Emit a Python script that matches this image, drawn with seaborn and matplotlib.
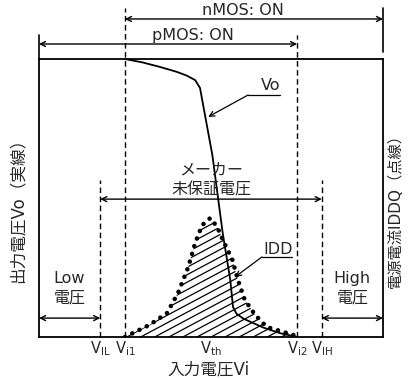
import numpy as np
import pandas as pd
import matplotlib
matplotlib.use("Agg")
import matplotlib.pyplot as plt
import seaborn as sns

# Voltages (Vdd = 5)
vdd = 5.0
v_il, v_i1, v_th, v_i2, v_ih = 0.89, 1.25, 2.5, 3.75, 4.11
tick_pos = [v_il, v_i1, v_th, v_i2, v_ih]
tick_labels = [r"V$_{\mathrm{IL}}$", r"V$_{\mathrm{i1}}$", r"V$_{\mathrm{th}}$",
               r"V$_{\mathrm{i2}}$", r"V$_{\mathrm{IH}}$"]

# Output voltage Vo (solid line)
vo_x = [1.25, 1.50, 1.75, 2.00, 2.15, 2.27, 2.34, 2.52, 2.67, 2.78, 2.82,
        2.87, 2.97, 3.26, 3.50, 3.75]
vo_y = [5.00, 4.94, 4.86, 4.77, 4.70, 4.62, 4.48, 3.27, 1.87, 1.03, 0.54,
        0.42, 0.33, 0.17, 0.07, 0.00]

# Supply current IDD (dotted line)
idd_x = [1.25, 1.61, 1.86, 2.02, 2.17, 2.27, 2.37, 2.49, 2.59, 2.67, 2.81,
         2.89, 2.99, 3.14, 3.31, 3.69, 3.75]
idd_y = [0.00, 0.22, 0.43, 0.79, 1.26, 1.69, 2.01, 2.14, 1.98, 1.75, 1.39,
         1.03, 0.67, 0.40, 0.18, 0.04, 0.00]

vo = pd.DataFrame({"Vi": vo_x, "Vo": vo_y})
idd = pd.DataFrame({"Vi": idd_x, "IDD": idd_y})

sns.set_style("white")
plt.rcParams["font.family"] = ["DejaVu Sans", "Noto Sans CJK JP"]

fig = plt.figure(figsize=(4.10, 3.79), dpi=100)
ax = fig.add_axes([39 / 410, 42 / 379, 344 / 410, 278 / 379])
ax.set_xlim(0, vdd)
ax.set_ylim(0, vdd)
for s in ax.spines.values():
    s.set_linewidth(1.3)
    s.set_color("black")
ax.set_yticks([])
ax.set_xticks(tick_pos, tick_labels)
ax.tick_params(axis="x", length=0, pad=2, labelsize=10.5)

k = dict(color="black", clip_on=False)
dash = (0, (4, 2.5))

# dashed verticals
ax.plot([v_i1, v_i1], [0, 5.92], ls=dash, lw=1, **k)
ax.plot([v_i2, v_i2], [0, 5.43], ls=dash, lw=1, **k)
ax.plot([v_il, v_il], [0, 2.82], ls=dash, lw=1, **k)
ax.plot([v_ih, v_ih], [0, 2.82], ls=dash, lw=1, **k)

# end ticks of the ON ranges
ax.plot([vdd, vdd], [5.13, 5.92], lw=1.2, **k)
ax.plot([0, 0], [5.0, 5.43], lw=1.2, **k)


def span(x1, x2, y):
    ax.annotate("", xy=(x2, y), xytext=(x1, y),
                arrowprops=dict(arrowstyle="<->", lw=1, color="black",
                                shrinkA=0, shrinkB=0, mutation_scale=9),
                annotation_clip=False)


span(v_i1, vdd, 5.72)
span(0, v_i2, 5.27)
span(v_il, v_ih, 2.48)
span(0, v_il, 0.34)
span(v_ih, vdd, 0.34)

fs = 11.5
ax.text(2.97, 5.87, "nMOS: ON", ha="center", va="center", fontsize=fs)
ax.text(2.24, 5.42, "pMOS: ON", ha="center", va="center", fontsize=fs)
ax.text(v_th, 3.0, "メーカー", ha="center", va="center", fontsize=fs)
ax.text(v_th, 2.64, "未保証電圧", ha="center", va="center", fontsize=fs)
ax.text(v_il / 2, 1.06, "Low", ha="center", va="center", fontsize=fs)
ax.text(v_il / 2, 0.70, "電圧", ha="center", va="center", fontsize=fs)
ax.text((v_ih + vdd) / 2, 1.06, "High", ha="center", va="center", fontsize=fs)
ax.text((v_ih + vdd) / 2, 0.70, "電圧", ha="center", va="center", fontsize=fs)

# hatch under IDD curve
poly = ax.fill_between(idd_x, idd_y, 0, facecolor="none", edgecolor="none")
clip = poly.get_paths()[0]
slope = 0.66
hx = np.array([0, vdd])
for c in np.arange(-3.0, 3.0, 0.135):
    ln, = ax.plot(hx, c + slope * hx, color="black", lw=0.9)
    ln.set_clip_path(clip, ax.transData)

# curves
sns.lineplot(data=vo, x="Vi", y="Vo", ax=ax, color="black", lw=1.3,
             estimator=None, sort=False)
sns.lineplot(data=idd, x="Vi", y="IDD", ax=ax, color="black", lw=3.3,
             estimator=None, sort=False)
dots = ax.lines[-1]
dots.set_linestyle((0, (0.01, 1.75)))
dots.set_dash_capstyle("round")
ax.set_xlabel("")
ax.set_ylabel("")

# leaders
ax.text(3.36, 4.52, "Vo", ha="center", va="center", fontsize=fs)
ax.plot([3.04, 3.50], [4.353, 4.353], lw=0.9, color="black")
ax.annotate("", xy=(2.46, 3.96), xytext=(3.04, 4.353),
            arrowprops=dict(arrowstyle="->", lw=0.9, color="black",
                            shrinkA=0, shrinkB=0, mutation_scale=9))
ax.text(3.47, 1.58, "IDD", ha="center", va="center", fontsize=fs)
ax.plot([3.24, 3.68], [1.44, 1.44], lw=0.9, color="black")
ax.annotate("", xy=(2.85, 1.08), xytext=(3.24, 1.44),
            arrowprops=dict(arrowstyle="->", lw=0.9, color="black",
                            shrinkA=0, shrinkB=0, mutation_scale=9))

fig.text(208 / 410, 1 - 369 / 379, "入力電圧Vi", ha="center", va="center",
         fontsize=12)
fig.text(18 / 410, 1 - 206 / 379, "出力電圧Vo（実線）", ha="center",
         va="center", rotation=90, fontsize=12)
fig.text(395 / 410, 1 - 207 / 379, "電源電流IDDQ（点線）", ha="center",
         va="center", rotation=90, fontsize=11)

fig.savefig("out.png", dpi=100)
